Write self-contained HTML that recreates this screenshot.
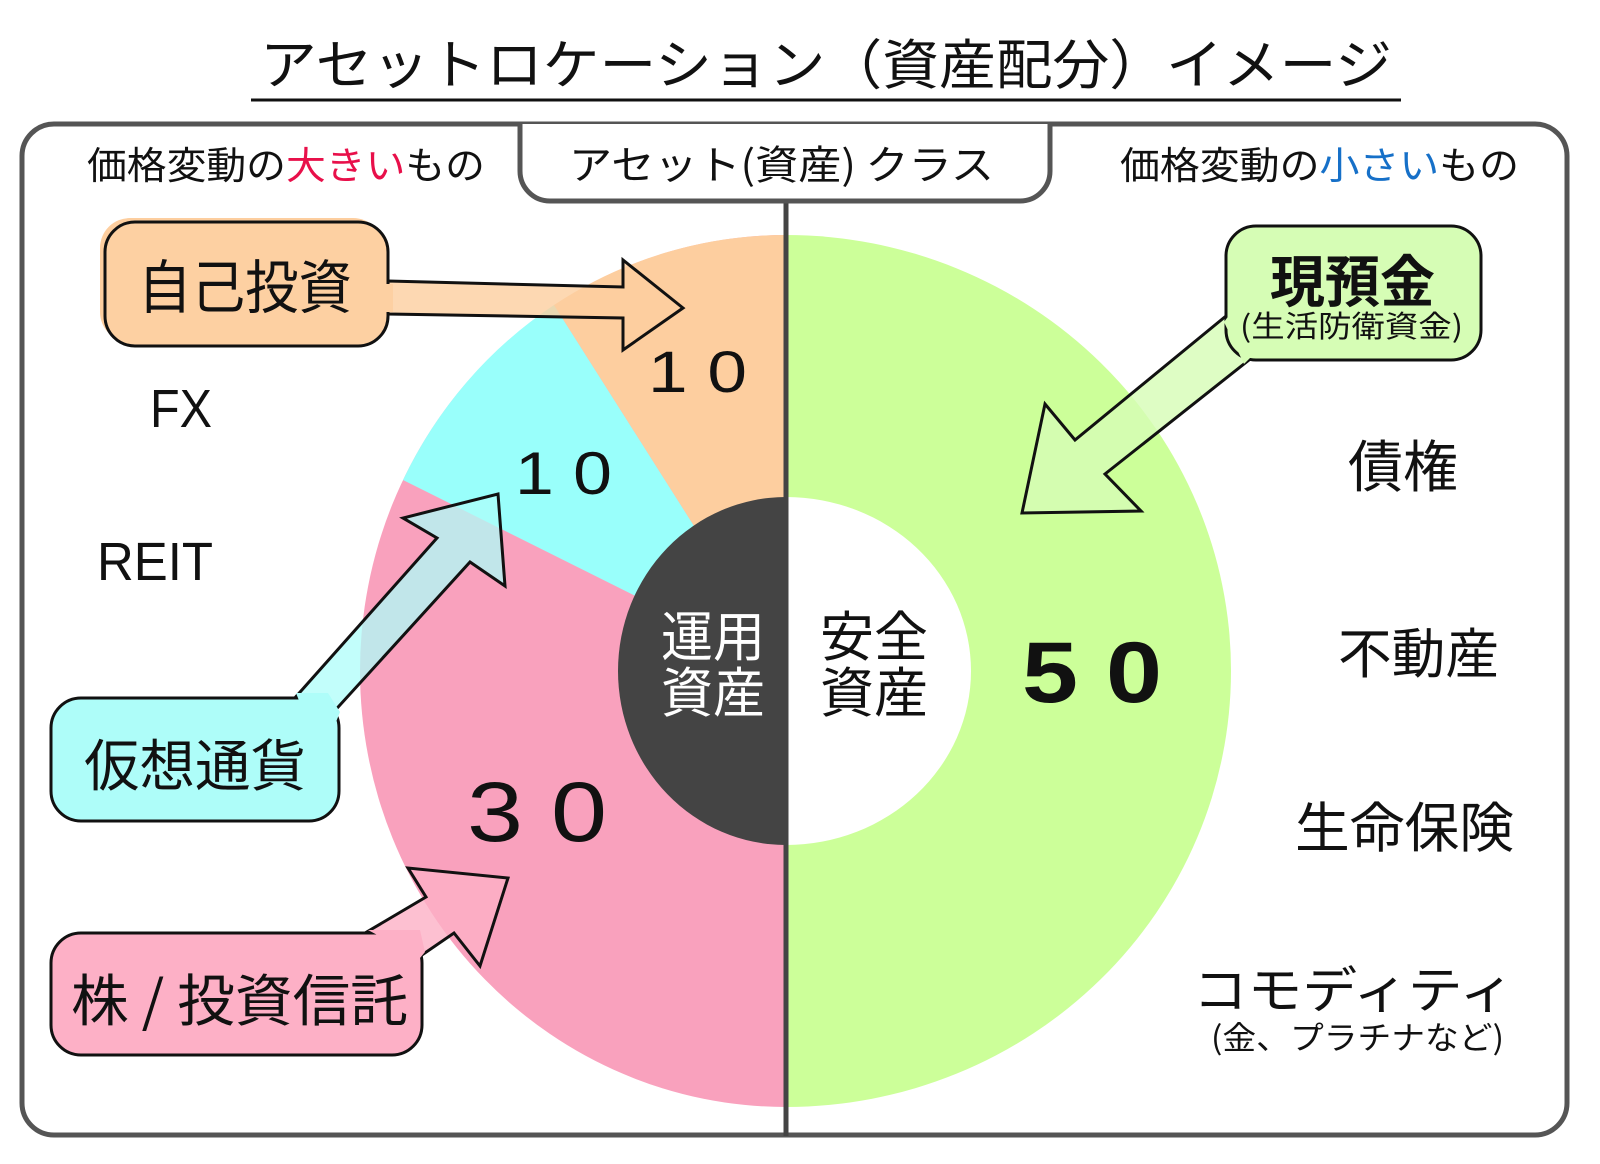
<!DOCTYPE html>
<html><head><meta charset="utf-8"><style>
html,body{margin:0;padding:0;background:#fff;}
svg{display:block;}
text{font-family:"Liberation Sans","Noto Sans CJK JP",sans-serif;fill:#111;}
.j{font-family:"Noto Sans CJK JP",sans-serif;}
</style></head><body>
<svg width="1600" height="1164" viewBox="0 0 1600 1164" xmlns="http://www.w3.org/2000/svg">
<rect width="1600" height="1164" fill="#fff"/>
<!-- title -->
<text class="j" x="260" y="84" font-size="54" textLength="1132" lengthAdjust="spacingAndGlyphs">アセットロケーション（資産配分）イメージ</text>
<line x1="251" y1="100" x2="1401" y2="100" stroke="#111" stroke-width="3"/>
<!-- outer box -->
<rect x="22" y="124" width="1545" height="1011" rx="32" fill="#fff" stroke="#555" stroke-width="5"/>
<!-- pie -->
<path d="M786,235 A426,436 0 0 0 786,1107 Z" fill="#f9a1bd"/>
<path d="M786,671 L554,305 A426,436 0 0 0 403,480 Z" fill="#99fffb"/>
<path d="M786,671 L786,235 A426,436 0 0 0 554,305 Z" fill="#fdce9f"/>
<path d="M786,235 A445,436 0 0 1 786,1107 Z" fill="#ccff99"/>
<path d="M786,497 A168,174 0 0 0 786,845 Z" fill="#444"/>
<path d="M786,497 A185,174 0 0 1 786,845 Z" fill="#fff"/>
<line x1="786" y1="200" x2="786" y2="1136" stroke="#444" stroke-width="5"/>
<!-- tab -->
<path d="M520,124 L520,171 A30,30 0 0 0 550,201 L1020,201 A30,30 0 0 0 1050,171 L1050,124" fill="#fff" stroke="#555" stroke-width="5"/>
<text class="j" x="569" y="179" font-size="40" textLength="425" lengthAdjust="spacingAndGlyphs">アセット(資産) クラス</text>
<!-- headers -->
<text class="j" x="87" y="179" font-size="38" textLength="398" lengthAdjust="spacingAndGlyphs">価格変動の<tspan fill="#e8104a">大きい</tspan>もの</text>
<text class="j" x="1120" y="179" font-size="38" textLength="399" lengthAdjust="spacingAndGlyphs">価格変動の<tspan fill="#1670c8">小さい</tspan>もの</text>

<!-- orange arrow + box -->
<rect x="100" y="218" width="283" height="124" rx="30" fill="#fdce9f"/>
<polygon points="388,281 623,287 623,260 683,308 623,350 623,318 388,314" fill="#fdce9f" fill-opacity="0.8" stroke="#111" stroke-width="3"/>
<rect x="105" y="222" width="283" height="124" rx="30" fill="#fdd0a2" stroke="#111" stroke-width="3"/>
<rect x="383" y="284" width="10" height="28" fill="#fdd0a2"/>
<text class="j" x="138" y="308" font-size="58" textLength="214" lengthAdjust="spacingAndGlyphs">自己投資</text>

<!-- cyan arrow + box -->
<polygon points="293,700 437,538 403,518 498,494 505,586 470,562 330,716" fill="#aefdf9" fill-opacity="0.75" stroke="#111" stroke-width="3"/>
<rect x="51" y="698" width="288" height="123" rx="30" fill="#aefdf9" stroke="#111" stroke-width="3"/>
<polygon points="296,693 328,693 340,712 336,722 300,703" fill="#aefdf9"/>
<text class="j" x="84" y="786" font-size="56" textLength="222" lengthAdjust="spacingAndGlyphs">仮想通貨</text>

<!-- pink arrow + box -->
<polygon points="365,933 426,897 408,868 508,878 480,966 454,933 422,955" fill="#fdb0c6" fill-opacity="0.8" stroke="#111" stroke-width="3"/>
<rect x="51" y="933" width="371" height="122" rx="30" fill="#fdb0c6" stroke="#111" stroke-width="3"/>
<polygon points="368,930 420,930 425,952 420,958" fill="#fdb0c6"/>
<text class="j" x="71" y="1021" font-size="56" textLength="337" lengthAdjust="spacingAndGlyphs">株 / 投資信託</text>

<!-- green arrow + box -->
<polygon points="1226,316 1075,440 1045,404 1022,513 1141,511 1105,474 1249,360" fill="#d6fdb5" fill-opacity="0.8" stroke="#111" stroke-width="3"/>
<rect x="1226" y="226" width="255" height="134" rx="30" fill="#d6fdb5" stroke="#111" stroke-width="3"/>
<polygon points="1224,322 1230,314 1252,356 1244,364" fill="#d6fdb5"/>
<text class="j" x="1270" y="302" font-size="56" font-weight="bold" textLength="165" lengthAdjust="spacingAndGlyphs">現預金</text>
<text class="j" x="1240" y="337" font-size="30" textLength="223" lengthAdjust="spacingAndGlyphs">(生活防衛資金)</text>

<!-- numbers -->
<text x="648" y="392" font-size="58" textLength="99" lengthAdjust="spacingAndGlyphs">1 0</text>
<text x="515" y="494" font-size="60" textLength="97" lengthAdjust="spacingAndGlyphs">1 0</text>
<text x="467" y="841" font-size="84" textLength="140" lengthAdjust="spacingAndGlyphs">3 0</text>
<text x="1022" y="702" font-size="86" font-weight="bold" textLength="140" lengthAdjust="spacingAndGlyphs">5 0</text>

<!-- left labels -->
<text x="150" y="427" font-size="54" textLength="62" lengthAdjust="spacingAndGlyphs">FX</text>
<text x="97" y="580" font-size="54" textLength="116" lengthAdjust="spacingAndGlyphs">REIT</text>

<!-- center -->
<text class="j" x="661" y="656" font-size="54" fill="#fff" style="fill:#fff" textLength="104" lengthAdjust="spacingAndGlyphs">運用</text>
<text class="j" x="661" y="712" font-size="54" style="fill:#fff" textLength="104" lengthAdjust="spacingAndGlyphs">資産</text>
<text class="j" x="820" y="656" font-size="54" textLength="108" lengthAdjust="spacingAndGlyphs">安全</text>
<text class="j" x="820" y="712" font-size="54" textLength="108" lengthAdjust="spacingAndGlyphs">資産</text>

<!-- right labels -->
<text class="j" x="1348" y="487" font-size="56" textLength="110" lengthAdjust="spacingAndGlyphs">債権</text>
<text class="j" x="1338" y="673" font-size="54" textLength="161" lengthAdjust="spacingAndGlyphs">不動産</text>
<text class="j" x="1295" y="847" font-size="54" textLength="219" lengthAdjust="spacingAndGlyphs">生命保険</text>
<text class="j" x="1193" y="1008" font-size="50" textLength="321" lengthAdjust="spacingAndGlyphs">コモディティ</text>
<text class="j" x="1211" y="1049" font-size="32" textLength="293" lengthAdjust="spacingAndGlyphs">(金、プラチナなど)</text>
</svg>
</body></html>
